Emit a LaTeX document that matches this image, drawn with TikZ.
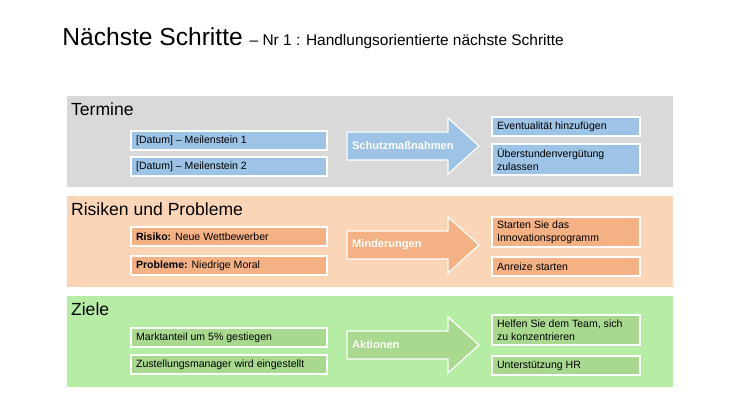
\documentclass[tikz,border=0pt]{standalone}
\usepackage{fontspec}
\setmainfont{Liberation Sans}
\usetikzlibrary{positioning}
\definecolor{panelgray}{HTML}{D9D9D9}
\definecolor{boxblue}{HTML}{9DC3E6}
\definecolor{panelorange}{HTML}{FBD5B5}
\definecolor{boxorange}{HTML}{F4B183}
\definecolor{panelgreen}{HTML}{B5EDA5}
\definecolor{boxgreen}{HTML}{A9D98E}
\tikzset{
  boxtext/.style={anchor=west, align=left, inner sep=1pt, font=\fontsize{6}{7.2}\selectfont},
  head/.style={anchor=west, inner sep=1pt, font=\fontsize{10}{12}\selectfont},
  arrowtext/.style={anchor=west, inner sep=1pt, text=white, font=\bfseries\fontsize{6.3}{7.5}\selectfont},
  itemfill/.style={draw=white, line width=0.7pt, fill=#1},
}
\begin{document}
\begin{tikzpicture}[x=0.02cm, y=-0.02cm]
	%Canvas
	\useasboundingbox (0,0) rectangle (740,415);
	\fill[white] (0,0) rectangle (740,415);
	
	%Title
	\node[anchor=base west, inner sep=0pt] (title) at (62,46)
	  {\fontsize{14}{16}\selectfont Nächste Schritte\ \fontsize{8.8}{10}\selectfont – Nr 1 : Handlungsorientierte nächste Schritte};
	
	%Three bands: top, colours, header, items left, arrow label, items right
	\foreach \t/\pan/\bx/\hd/\la/\lb/\ar/\ra/\rb/\ya/\yb/\yc/\yd/\ye/\hra/\hrb in {
	  96/panelgray/boxblue/Termine/{[Datum] – Meilenstein 1}/{[Datum] – Meilenstein 2}/Schutzmaßnahmen/{Eventualität hinzufügen}/{Überstundenvergütung\\zulassen}/131/157/146/117/144/19/31,
	  196/panelorange/boxorange/Risiken und Probleme/{\textbf{Risiko:} Neue Wettbewerber}/{\textbf{Probleme:} Niedrige Moral}/Minderungen/{Starten Sie das\\Innovationsprogramm}/{Anreize starten}/227/256/245/217/257/30/19,
	  296/panelgreen/boxgreen/Ziele/{Marktanteil um 5\% gestiegen}/{Zustellungsmanager wird eingestellt}/Aktionen/{Helfen Sie dem Team, sich\\zu konzentrieren}/{Unterstützung HR}/328/355/345/315/356/30/19} {
	  \fill[\pan] (67,\t) rectangle (673,\t+91);
	  \node[head] (hd-\t) at (69,\t+13) {\hd};
	  %left items
	  \draw[itemfill=\bx] (131,\ya) rectangle (327,\ya+19);
	  \node[boxtext] (la-\t) at (134,\ya+9.5) {\la};
	  \draw[itemfill=\bx] (131,\yb) rectangle (327,\yb+19);
	  \node[boxtext] (lb-\t) at (134,\yb+9.5) {\lb};
	  %arrow
	  \draw[itemfill=\bx] (347,\yc-14) -- (448,\yc-14) -- (448,\yc-28)
	    -- (479,\yc) -- (448,\yc+28) -- (448,\yc+14) -- (347,\yc+14) -- cycle;
	  \node[arrowtext] (ar-\t) at (350,\yc) {\ar};
	  %right items
	  \draw[itemfill=\bx] (492,\yd) rectangle (640,\yd+\hra);
	  \node[boxtext] (ra-\t) at (495,\yd+\hra/2) {\ra};
	  \draw[itemfill=\bx] (492,\ye) rectangle (640,\ye+\hrb);
	  \node[boxtext] (rb-\t) at (495,\ye+\hrb/2) {\rb};
	}
\end{tikzpicture}
\end{document}
